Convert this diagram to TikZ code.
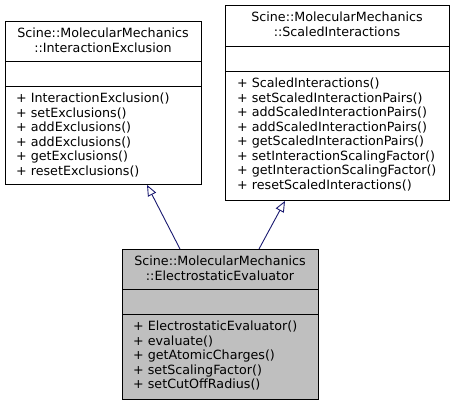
\documentclass[tikz,border=0pt]{standalone}
\usepackage{fontspec}
\setmainfont{DejaVu Sans}
\usetikzlibrary{arrows.meta,calc}

\definecolor{edgeblue}{HTML}{191970}
\definecolor{boxgray}{HTML}{BFBFBF}

\tikzset{
  classbox/.style={draw=black, line width=0.9pt, anchor=north west, inner sep=0pt},
  divider/.style={draw=black, line width=0.9pt},
  member/.style={anchor=base west, inner sep=0pt, font=\fontsize{12.7}{14.5}\selectfont},
  classname/.style={anchor=base, inner sep=0pt, font=\fontsize{12.7}{14.5}\selectfont},
  inherits/.style={draw=edgeblue, line width=0.9pt, -{Triangle[open, length=11pt, width=9pt]}}
}

\begin{document}
\begin{tikzpicture}[x=1pt, y=-1pt]
    \useasboundingbox (0,0) rectangle (455,405);

    % InteractionExclusion
    \node[classbox, fill=white, minimum width=196pt, minimum height=163pt] (excl) at (5,21) {};
    \draw[divider] ($(excl.north west)+(0,40)$) -- ($(excl.north east)+(0,40)$);
    \draw[divider] ($(excl.north west)+(0,65)$) -- ($(excl.north east)+(0,65)$);
    \node[classname] (excl-t1) at (103,37.5) {Scine::MolecularMechanics};
    \node[classname] (excl-t2) at (103,52) {::InteractionExclusion};
    \foreach \m [count=\i from 0] in {InteractionExclusion(), setExclusions(), addExclusions(),
        addExclusions(), getExclusions(), resetExclusions()}
      \node[member] (excl-m\i) at (16,102.5+14.5*\i) {+ \m};

    % ScaledInteractions
    \node[classbox, fill=white, minimum width=224pt, minimum height=195pt] (scaled) at (225,5) {};
    \draw[divider] ($(scaled.north west)+(0,41)$) -- ($(scaled.north east)+(0,41)$);
    \draw[divider] ($(scaled.north west)+(0,66)$) -- ($(scaled.north east)+(0,66)$);
    \node[classname] (scaled-t1) at (337,21.5) {Scine::MolecularMechanics};
    \node[classname] (scaled-t2) at (337,36) {::ScaledInteractions};
    \foreach \m [count=\i from 0] in {ScaledInteractions(), setScaledInteractionPairs(),
        addScaledInteractionPairs(), addScaledInteractionPairs(), getScaledInteractionPairs(),
        setInteractionScalingFactor(), getInteractionScalingFactor(), resetScaledInteractions()}
      \node[member] (scaled-m\i) at (237,87.5+14.5*\i) {+ \m};

    % ElectrostaticEvaluator
    \node[classbox, fill=boxgray, minimum width=196pt, minimum height=150pt] (elec) at (122,249) {};
    \draw[divider] ($(elec.north west)+(0,40)$) -- ($(elec.north east)+(0,40)$);
    \draw[divider] ($(elec.north west)+(0,65)$) -- ($(elec.north east)+(0,65)$);
    \node[classname] (elec-t1) at (220,265.5) {Scine::MolecularMechanics};
    \node[classname] (elec-t2) at (220,280) {::ElectrostaticEvaluator};
    \foreach \m [count=\i from 0] in {ElectrostaticEvaluator(), evaluate(), getAtomicCharges(),
        setScalingFactor(), setCutOffRadius()}
      \node[member] (elec-m\i) at (133,330.5+14.5*\i) {+ \m};

    % inheritance
    \draw[inherits] ($(elec.north west)+(58,0)$) -- ($(excl.south west)+(142,0)$);
    \draw[inherits] ($(elec.north west)+(137,0)$) -- ($(scaled.south west)+(60,0)$);
\end{tikzpicture}
\end{document}
